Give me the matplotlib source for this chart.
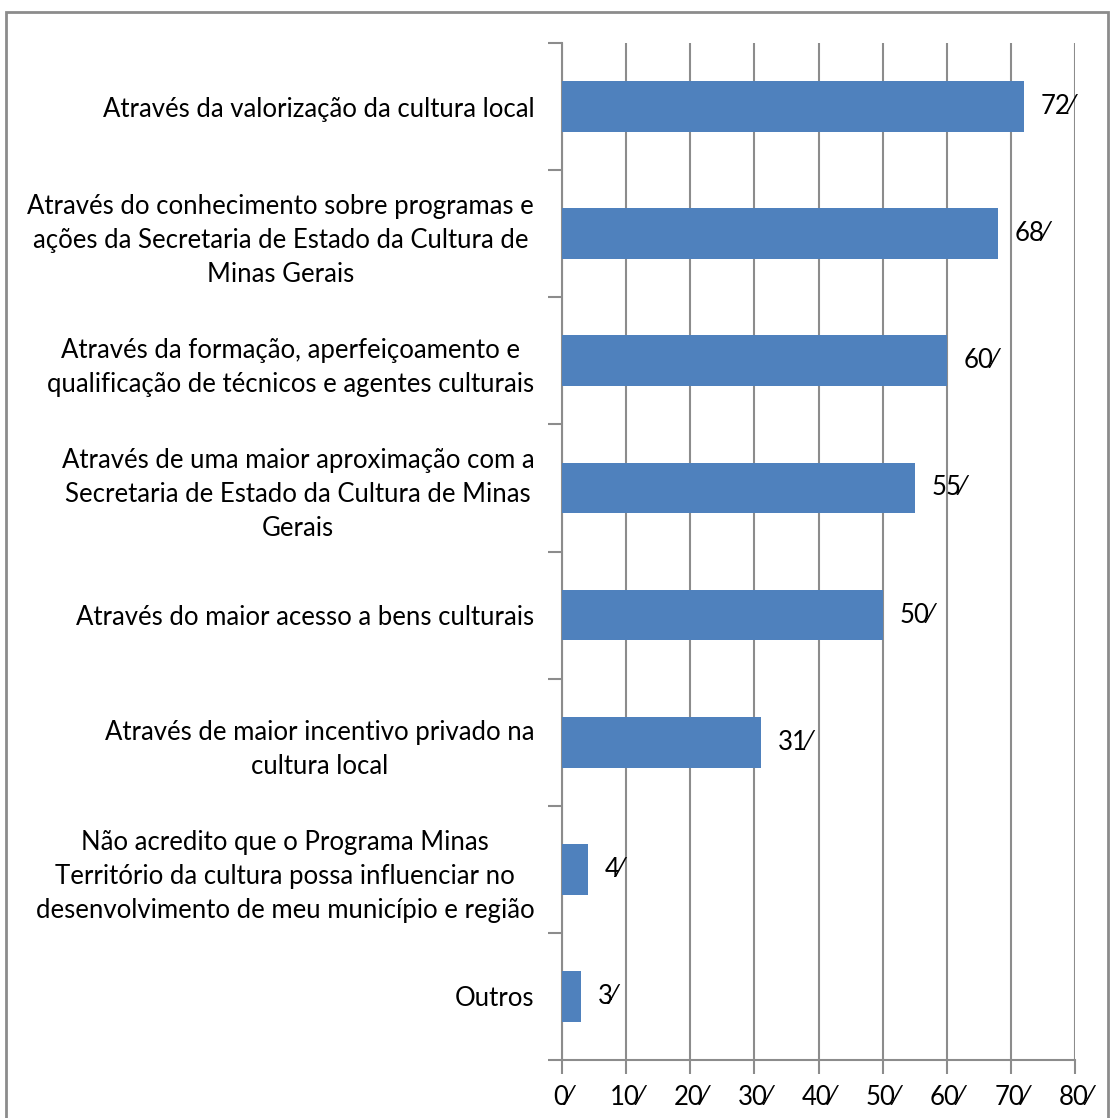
import matplotlib.pyplot as plt
from matplotlib.patches import Rectangle

plt.rcParams['font.family'] = ['Lato', 'DejaVu Sans']

categories = [
    "Através da valorização da cultura local",
    "Através do conhecimento sobre programas e\nações da Secretaria de Estado da Cultura de\nMinas Gerais",
    "Através da formação, aperfeiçoamento e\nqualificação de técnicos e agentes culturais",
    "Através de uma maior aproximação com a\nSecretaria de Estado da Cultura de Minas\nGerais",
    "Através do maior acesso a bens culturais",
    "Através de maior incentivo privado na\ncultura local",
    "Não acredito que o Programa Minas\nTerritório da cultura possa influenciar no\ndesenvolvimento de meu município e região",
    "Outros",
]
values = [72, 68, 60, 55, 50, 31, 4, 3]
xticks = [0, 10, 20, 30, 40, 50, 60, 70, 80]

W, H = 1114, 1118
FS = 18.5
fig = plt.figure(figsize=(W / 100, H / 100), dpi=100)
ax = fig.add_axes([562 / W, 1 - 1060 / H, (1075 - 562) / W, (1060 - 43) / H])

pos = list(range(len(values)))
ax.barh(pos, values, height=0.4, color='#4F81BD', zorder=3)
ax.set_ylim(len(values) - 0.5, -0.5)
ax.set_xlim(0, 80)

grid_c = '#8C8C8C'
ax.set_xticks(xticks)
ax.set_xticklabels([f"{t}\u2044" for t in xticks], fontsize=FS)
ax.xaxis.grid(True, color=grid_c, linewidth=1.5, zorder=0)
ax.set_yticks([p - 0.5 for p in pos] + [len(values) - 0.5])
ax.set_yticklabels([])
ax.set_yticks(pos, minor=True)
ax.set_yticklabels(categories, minor=True, fontsize=FS, ha='right',
                   multialignment='center', linespacing=1.45)
ax.tick_params(axis='y', which='minor', length=0, pad=20)
ax.tick_params(axis='y', which='major', length=10, width=1.5, color=grid_c)
ax.tick_params(axis='x', length=10, width=1.5, color=grid_c, pad=8)

for s in ['top', 'right']:
    ax.spines[s].set_visible(False)
for s in ['left', 'bottom']:
    ax.spines[s].set_color(grid_c)
    ax.spines[s].set_linewidth(1.5)

for p, v in zip(pos, values):
    ax.text(v + 2.6, p, f"{v}\u2044", va='center', ha='left', fontsize=FS, zorder=4)

fig.patches.append(Rectangle((6 / W, -0.02), (1108 - 6) / W, 1.02 - 12 / H,
                             transform=fig.transFigure, fill=False,
                             edgecolor='#8C8C8C', linewidth=2))

fig.savefig('out.png', dpi=100)
